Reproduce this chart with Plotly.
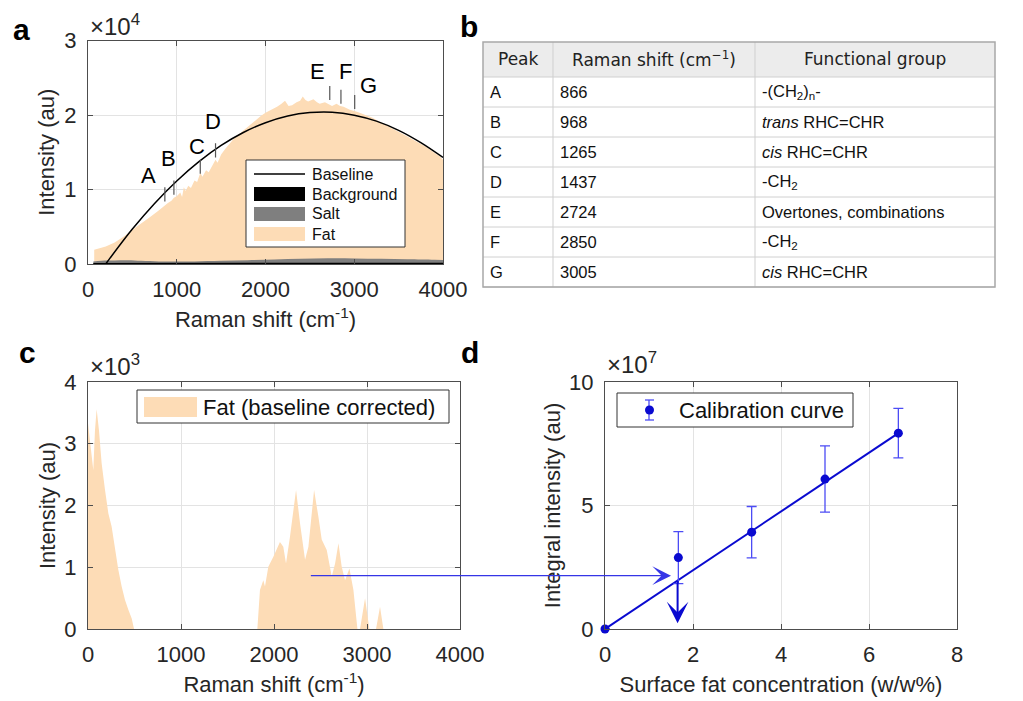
import plotly.graph_objects as go

W, H = 1023, 701
FONT = "Liberation Sans"
INK = "#262626"
AXIS = "#4d4d4d"
GRID = "#e3e3e3"
PEACH = "#FDDCB6"
SALT = "#7f7f7f"
BLUE = "#0a0ad0"
BLUE_LIGHT = "#4c4cf5"

# ---------------- panel a: raw spectra (intensity in au) ----------------
fat_shift = [70, 120, 200, 300, 400, 500, 600, 700, 800, 866, 900, 940, 968, 1000,
             1040, 1060, 1080, 1100, 1130, 1160, 1200, 1230, 1265, 1290, 1330, 1360,
             1400, 1437, 1460, 1500, 1550, 1600, 1650, 1700, 1750, 1800, 1850, 1900,
             1950, 2000, 2050, 2100, 2130, 2180, 2220, 2260, 2300, 2350, 2390, 2420,
             2450, 2480, 2540, 2580, 2610, 2670, 2710, 2750, 2800, 2840, 2880, 2950,
             3030, 3100, 3200, 3300, 3400, 3500, 3600, 3700, 3800, 3900, 3960, 4000]
fat_int = [1900, 2050, 2350, 2900, 3650, 4600, 5400, 6300, 7200, 7900, 8200, 8500, 8900, 9100,
           9600, 9000, 10300, 9800, 10500, 10200, 11200, 11000, 12200, 11700, 12600, 12300,
           13300, 14000, 13600, 14700, 15500, 16200, 16900, 17400, 17900, 18500, 19000, 19500,
           19900, 20300, 20600, 20900, 21100, 21500, 21900, 21200, 21300, 21700, 21900, 22500,
           22000, 21800, 22100, 21700, 21500, 21700, 21400, 21200, 21500, 21200, 21100, 20700,
           20450, 20150, 19650, 19000, 18400, 17800, 17100, 16450, 15800, 14950, 14500, 14000]

salt_shift = [60, 150, 300, 450, 600, 800, 1000, 1200, 1500, 1800, 2100, 2400, 2700,
              3000, 3300, 3600, 3900, 4000]
salt_int = [350, 450, 480, 500, 420, 340, 330, 350, 420, 500, 600, 700, 760,
            750, 700, 640, 580, 550]

bg_shift = [60, 1000, 2000, 3000, 4000]
bg_int = [150, 130, 150, 170, 160]

base_shift = [200, 250, 500, 750, 1000, 1250, 1500, 1750, 2000, 2250, 2500, 2750,
              3000, 3250, 3500, 3750, 4000]
base_int = [0, 820, 4690, 8130, 11150, 13740, 15910, 17650, 18960, 19860, 20320, 20370,
            19980, 19180, 17940, 16290, 14300]

# ---------------- table b: assigned Raman peaks ----------------
table_header = ["Peak", "Raman shift (cm<sup>\u22121</sup>)", "Functional group"]
peak_ids = ["A", "B", "C", "D", "E", "F", "G"]
peak_shift = [866, 968, 1265, 1437, 2724, 2850, 3005]
peak_group = ["-(CH<sub>2</sub>)<sub>n</sub>-", "<i>trans</i> RHC=CHR", "<i>cis</i> RHC=CHR",
              "-CH<sub>2</sub>", "Overtones, combinations", "-CH<sub>2</sub>",
              "<i>cis</i> RHC=CHR"]
# lower end of each peak marker drawn on the spectrum (au) and marker length
peak_mark_low = [8400, 9300, 12100, 14300, 22000, 21500, 20800]
PEAK_MARK_LEN = 1900

# ---------------- panel c: baseline corrected fat spectrum ----------------
corr_shift = [0, 32, 57, 75, 93, 118, 147, 183, 219, 254, 290, 326, 362, 398, 434, 470,
              495, 1821, 1849, 1885, 1903, 1939, 1993, 2064, 2100, 2129, 2172, 2237,
              2280, 2334, 2370, 2431, 2477, 2513, 2567, 2621, 2657, 2693, 2728, 2764,
              2811, 2854, 2897, 2925, 2979, 3025, 3097, 3140, 3176, 4000]
corr_int = [3330, 2950, 2570, 3220, 3560, 3220, 2680, 2250, 1870, 1660, 1280, 960, 690, 470,
            310, 170, 0, 0, 630, 790, 690, 1010, 1170, 1410, 1330, 1060, 1500, 2250,
            1710, 1120, 1330, 2250, 1820, 1450, 1280, 850, 1060, 1390, 1010, 790,
            980, 630, 0, 0, 500, 0, 0, 360, 0, 0]
# integrated sample reading carried over to the calibration panel
sample_shift_start = 2380
sample_level_c = 863          # au, in panel c units
sample_level_d = 2.16e7       # integral intensity, same height in panel d
sample_conc_read = 1.65       # w/w%
sample_arrow_conc = 1.5

# ---------------- panel d: calibration ----------------
conc = [0, 1.667, 3.333, 5.0, 6.667]
integral = [0, 2.89e7, 3.92e7, 6.07e7, 7.93e7]
integral_err = [0, 1.05e7, 1.04e7, 1.34e7, 1.00e7]
fit_conc = [0, 6.667]
fit_integral = [0, 7.93e7]

# ---------------- geometry (pixels) ----------------
A_X = (88, 443); A_Y = (40.5, 264)
C_X = (88, 460); C_Y = (382, 629)
D_X = (605, 957); D_Y = (382, 629)
TB_X = (483, 553, 755, 995)          # table column edges
TB_HEAD = (42, 77)
TB_ROW_H = 30


def px(x):
    return x / W


def py(y):
    return 1 - y / H


def dom_x(p):
    return [px(p[0]), px(p[1])]


def dom_y(p):
    return [py(p[1]), py(p[0])]


fig = go.Figure()
shapes = []
ann = []

# panel a traces (plotted in units of 1e4)
s4 = 1e4
fig.add_trace(go.Scatter(x=fat_shift, y=[v / s4 for v in fat_int], fill="tozeroy",
                         fillcolor=PEACH, line=dict(width=0), mode="lines", name="Fat",
                         xaxis="x", yaxis="y"))
fig.add_trace(go.Scatter(x=salt_shift, y=[v / s4 for v in salt_int], fill="tozeroy",
                         fillcolor=SALT, line=dict(width=0, shape="spline"), mode="lines",
                         name="Salt", xaxis="x", yaxis="y"))
fig.add_trace(go.Scatter(x=bg_shift, y=[v / s4 for v in bg_int], fill="tozeroy",
                         fillcolor="black", line=dict(width=0), mode="lines",
                         name="Background", xaxis="x", yaxis="y"))
fig.add_trace(go.Scatter(x=base_shift, y=[v / s4 for v in base_int], mode="lines",
                         line=dict(color="black", width=1.5, shape="spline"),
                         name="Baseline", xaxis="x", yaxis="y"))
for sh, lo in zip(peak_shift, peak_mark_low):
    fig.add_trace(go.Scatter(x=[sh, sh], y=[lo / s4, (lo + PEAK_MARK_LEN) / s4],
                             mode="lines", line=dict(color="#555555", width=1.2),
                             hoverinfo="skip", xaxis="x", yaxis="y"))

# panel c (units of 1e3)
s3 = 1e3
fig.add_trace(go.Scatter(x=corr_shift, y=[v / s3 for v in corr_int], fill="tozeroy",
                         fillcolor=PEACH, line=dict(width=0), mode="lines",
                         name="Fat (baseline corrected)", xaxis="x2", yaxis="y2"))

# panel d (units of 1e7)
s7 = 1e7
fig.add_trace(go.Scatter(x=fit_conc, y=[v / s7 for v in fit_integral], mode="lines",
                         line=dict(color=BLUE, width=2), xaxis="x3", yaxis="y3"))
fig.add_trace(go.Scatter(x=conc, y=[v / s7 for v in integral], mode="markers",
                         marker=dict(color=BLUE, size=9),
                         error_y=dict(type="data", array=[e / s7 for e in integral_err],
                                      color=BLUE_LIGHT, thickness=1.3, width=5),
                         name="Calibration curve", xaxis="x3", yaxis="y3", cliponaxis=False))


def axis_common(**kw):
    d = dict(showline=True, linecolor=AXIS, linewidth=1, mirror="ticks",
             ticks="inside", ticklen=5, tickcolor=AXIS, showgrid=True, gridcolor=GRID,
             zeroline=False, tickfont=dict(family=FONT, size=22, color=INK),
             title_font=dict(family=FONT, size=22, color=INK), fixedrange=True,
             ticklabelstandoff=6)
    d.update(kw)
    return d


fig.update_layout(
    width=W, height=H, margin=dict(l=0, r=0, t=0, b=0, autoexpand=False),
    paper_bgcolor="white", plot_bgcolor="white", showlegend=False,
    font=dict(family=FONT, color=INK),
    xaxis=axis_common(domain=dom_x(A_X), range=[0, 4000], tickvals=[0, 1000, 2000, 3000, 4000],
                      anchor="y", title=dict(text="Raman shift (cm<sup>-1</sup>)", standoff=10)),
    yaxis=axis_common(domain=dom_y(A_Y), range=[0, 3], tickvals=[0, 1, 2, 3], anchor="x",
                      title=dict(text="Intensity (au)", standoff=3)),
    xaxis2=axis_common(domain=dom_x(C_X), range=[0, 4000], tickvals=[0, 1000, 2000, 3000, 4000],
                       anchor="y2", title=dict(text="Raman shift (cm<sup>-1</sup>)", standoff=10)),
    yaxis2=axis_common(domain=dom_y(C_Y), range=[0, 4], tickvals=[0, 1, 2, 3, 4], anchor="x2",
                       title=dict(text="Intensity (au)", standoff=2)),
    xaxis3=axis_common(domain=dom_x(D_X), range=[0, 8], tickvals=[0, 2, 4, 6, 8],
                       anchor="y3",
                       title=dict(text="Surface fat concentration (w/w%)", standoff=10)),
    yaxis3=axis_common(domain=dom_y(D_Y), range=[0, 10], tickvals=[0, 5, 10], anchor="x3",
                       title=dict(text="Integral intensity (au)", standoff=2)),
)

# ---------------- legends ----------------
LEG_LINE = "#333333"


def legend_box(x0, y0, x1, y1):
    shapes.append(dict(type="rect", xref="paper", yref="paper", x0=px(x0), x1=px(x1),
                       y0=py(y1), y1=py(y0), line=dict(color=LEG_LINE, width=1),
                       fillcolor="white", layer="above"))


def legend_text(txt, x, y, size):
    ann.append(dict(text=txt, x=px(x), y=py(y), xref="paper", yref="paper", xanchor="left",
                    yanchor="middle", showarrow=False, font=dict(family=FONT, size=size,
                                                                 color="#111111")))


def legend_patch(x0, y0, x1, y1, color):
    shapes.append(dict(type="rect", xref="paper", yref="paper", x0=px(x0), x1=px(x1),
                       y0=py(y1), y1=py(y0), line=dict(width=0), fillcolor=color,
                       layer="above"))


# panel a legend
legend_box(246, 160, 405, 247)
shapes.append(dict(type="line", xref="paper", yref="paper", x0=px(254), x1=px(305),
                   y0=py(174), y1=py(174), line=dict(color="black", width=1.5), layer="above"))
legend_patch(254, 187, 305, 201, "black")
legend_patch(254, 207, 305, 221, SALT)
legend_patch(254, 227, 305, 241, PEACH)
for txt, yy in [("Baseline", 174), ("Background", 194), ("Salt", 214), ("Fat", 234)]:
    legend_text(txt, 310, yy, 16)

# panel c legend
legend_box(137, 390, 449, 423)
legend_patch(144, 397, 197, 417, PEACH)
legend_text("Fat (baseline corrected)", 201, 407, 22)

# panel d legend: marker with error bar
legend_box(617, 393, 853, 427)
shapes.append(dict(type="line", xref="paper", yref="paper", x0=px(649), x1=px(649),
                   y0=py(400), y1=py(420), line=dict(color=BLUE_LIGHT, width=1.3), layer="above"))
for yy in (400, 420):
    shapes.append(dict(type="line", xref="paper", yref="paper", x0=px(645), x1=px(654),
                       y0=py(yy), y1=py(yy), line=dict(color=BLUE_LIGHT, width=1.3),
                       layer="above"))
shapes.append(dict(type="circle", xref="paper", yref="paper", x0=px(645), x1=px(654),
                   y0=py(414.5), y1=py(405.5), line=dict(width=0), fillcolor=BLUE,
                   layer="above"))
legend_text("Calibration curve", 677, 410, 22)

# ---------------- table b ----------------
n_rows = len(peak_ids)
tb_top, tb_head_bot = TB_HEAD
tb_bot = tb_head_bot + n_rows * TB_ROW_H
shapes.append(dict(type="rect", xref="paper", yref="paper", x0=px(TB_X[0]), x1=px(TB_X[-1]),
                   y0=py(tb_head_bot), y1=py(tb_top), line=dict(width=0), fillcolor="#ececec"))
for i in range(n_rows + 1):
    yy = tb_head_bot + i * TB_ROW_H
    shapes.append(dict(type="line", xref="paper", yref="paper", x0=px(TB_X[0]),
                       x1=px(TB_X[-1]), y0=py(yy), y1=py(yy),
                       line=dict(color="#d0d0d0", width=1)))
for xx in TB_X[1:-1]:
    shapes.append(dict(type="line", xref="paper", yref="paper", x0=px(xx), x1=px(xx),
                       y0=py(tb_bot), y1=py(tb_top), line=dict(color="#cfcfcf", width=1)))
shapes.append(dict(type="rect", xref="paper", yref="paper", x0=px(TB_X[0]), x1=px(TB_X[-1]),
                   y0=py(tb_bot), y1=py(tb_top), line=dict(color="#a8a8a8", width=1.5)))
for j, txt in enumerate(table_header):
    ann.append(dict(text=txt, x=px((TB_X[j] + TB_X[j + 1]) / 2), y=py((tb_top + tb_head_bot) / 2),
                    xref="paper", yref="paper", xanchor="center", yanchor="middle",
                    showarrow=False, font=dict(family="DejaVu Sans", size=17, color="#222222")))
for i in range(n_rows):
    yc = tb_head_bot + (i + 0.5) * TB_ROW_H
    for j, val in enumerate([peak_ids[i], str(peak_shift[i]), peak_group[i]]):
        ann.append(dict(text=val, x=px(TB_X[j] + 5), y=py(yc), xref="paper", yref="paper",
                        xanchor="left", yanchor="middle", showarrow=False,
                        font=dict(family=FONT, size=16.5, color="#111111")))

# ---------------- annotations ----------------
for letter, (lx, ly) in zip("abcd", [(21, 30), (469, 27), (27, 352), (470, 352)]):
    ann.append(dict(text=f"<b>{letter}</b>", x=px(lx), y=py(ly), xref="paper", yref="paper",
                    xanchor="center", yanchor="middle", showarrow=False,
                    font=dict(family=FONT, size=30, color="black")))
for txt, (ex, ey) in [("\u00d710<sup>4</sup>", (88, 42)), ("\u00d710<sup>3</sup>", (88, 382)),
                      ("\u00d710<sup>7</sup>", (605, 380))]:
    ann.append(dict(text=txt, x=px(ex), y=py(ey), xref="paper", yref="paper",
                    xanchor="left", yanchor="bottom", showarrow=False,
                    font=dict(family=FONT, size=24, color=INK)))
label_pos = [(680, 1.19), (905, 1.42), (1225, 1.58), (1405, 1.91), (2584, 2.58),
             (2896, 2.58), (3158, 2.40)]
for pid, (lx, ly) in zip(peak_ids, label_pos):
    ann.append(dict(text=pid, x=lx, y=ly, xref="x", yref="y", showarrow=False,
                    font=dict(family=FONT, size=22, color="black")))

# arrow from panel c reading to the calibration line (pixel offset from domains)
head_px = D_X[0] + sample_arrow_conc / 8 * (D_X[1] - D_X[0])
tail_px = C_X[0] + sample_shift_start / 4000 * (C_X[1] - C_X[0])
head_py = D_Y[1] - sample_level_d / 1e8 * (D_Y[1] - D_Y[0])
tail_py = C_Y[1] - sample_level_c / 4000 * (C_Y[1] - C_Y[0])
ann.append(dict(x=sample_arrow_conc, y=sample_level_d / s7, xref="x3", yref="y3", text="",
                showarrow=True, ax=tail_px - head_px, ay=tail_py - head_py,
                arrowhead=3, arrowsize=2.6, arrowwidth=1.2, arrowcolor="#3535e6", standoff=0))
# arrow down to the concentration axis
ann.append(dict(x=sample_conc_read, y=0.23, xref="x3", yref="y3", axref="x3", ayref="y3",
                ax=sample_conc_read, ay=2.0, text="", showarrow=True, arrowhead=3,
                arrowsize=1.8, arrowwidth=2, arrowcolor=BLUE, standoff=0))

fig.update_layout(shapes=shapes, annotations=ann)
fig.write_html("out.html")
